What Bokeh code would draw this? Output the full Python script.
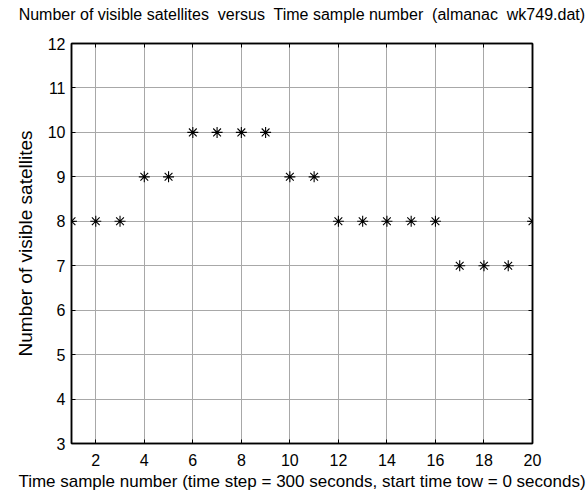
from bokeh.plotting import figure
from bokeh.models import LinearAxis, FixedTicker, Range1d
from bokeh.embed import file_html
from bokeh.resources import INLINE

# data
sample = list(range(1, 21))
n_visible = [8, 8, 8, 9, 9, 10, 10, 10, 10, 9, 9, 8, 8, 8, 8, 8, 7, 7, 7, 8]
x_ticks = [2, 4, 6, 8, 10, 12, 14, 16, 18, 20]
y_ticks = [3, 4, 5, 6, 7, 8, 9, 10, 11, 12]

FONT = "Liberation Sans"
NB = "\u00a0"
title_text = ("Number of visible satellites" + NB + " versus" + NB + " Time sample number"
              + NB + " (almanac" + NB + " wk749.dat)")

p = figure(
    frame_width=461, frame_height=400,
    x_range=Range1d(1, 20), y_range=Range1d(3, 12),
    output_backend="svg", toolbar_location=None,
    min_border_left=71, min_border_right=56, min_border_top=43, min_border_bottom=57,
)

p.outline_line_color = "black"
p.outline_line_width = 1.5

for ax in p.xaxis:
    ax.ticker = FixedTicker(ticks=x_ticks)
    ax.axis_label = "Time sample number (time step = 300 seconds, start time tow = 0 seconds)"
for ax in p.yaxis:
    ax.ticker = FixedTicker(ticks=y_ticks)
    ax.axis_label = "Number of visible satellites"

for ax in list(p.xaxis) + list(p.yaxis):
    ax.major_tick_in = 4
    ax.major_tick_out = 0
    ax.minor_tick_line_color = None
    ax.axis_line_color = "black"
    ax.axis_line_width = 1.5
    ax.major_tick_line_color = "black"
    ax.major_label_text_font = FONT
    ax.major_label_text_font_size = "16px"
    ax.major_label_text_color = "black"
    ax.axis_label_text_font = FONT
    ax.axis_label_text_font_style = "normal"
    ax.axis_label_text_color = "black"

p.xaxis.axis_label_text_font_size = "17px"
p.yaxis.axis_label_text_font_size = "19px"
p.xaxis.major_label_standoff = 10
p.yaxis.major_label_standoff = 6
p.xaxis.axis_label_standoff = 3
p.yaxis.axis_label_standoff = 9

# top axis carries the chart title; right axis closes the box (inward ticks, no labels)
top = LinearAxis(ticker=FixedTicker(ticks=x_ticks), major_tick_in=4, major_tick_out=0,
                 minor_tick_line_color=None,
                 major_label_overrides={t: "" for t in x_ticks},
                 major_label_text_font_size="1px",
                 major_label_standoff=0, axis_line_color="black", axis_line_width=1.5,
                 axis_label=title_text, axis_label_text_font=FONT,
                 axis_label_text_font_size="16px", axis_label_text_font_style="normal",
                 axis_label_text_color="black", axis_label_standoff=21)
right = LinearAxis(ticker=FixedTicker(ticks=y_ticks), major_tick_in=4, major_tick_out=0,
                   minor_tick_line_color=None,
                   major_label_overrides={t: "" for t in y_ticks},
                   major_label_text_font_size="1px",
                   major_label_standoff=0, axis_line_color="black", axis_line_width=1.5)
p.add_layout(top, "above")
p.add_layout(right, "right")

p.xgrid.ticker = FixedTicker(ticks=x_ticks)
p.ygrid.ticker = FixedTicker(ticks=y_ticks)
for g in (p.xgrid, p.ygrid):
    g.grid_line_color = "#a8a8a8"
    g.grid_line_width = 1

p.scatter(sample, n_visible, marker="asterisk", size=11, line_color="black", line_width=1.1)

open("out.html", "w").write(file_html(p, INLINE))
